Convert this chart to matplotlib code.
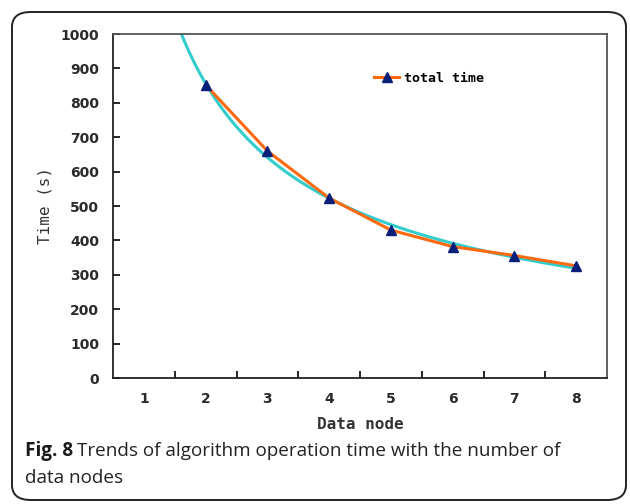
import numpy as np
import matplotlib
matplotlib.use('Agg')
import matplotlib.pyplot as plt
from matplotlib.patches import FancyBboxPatch

# data
nodes = [1, 2, 3, 4, 5, 6, 7, 8]
time_nodes = [2, 3, 4, 5, 6, 7, 8]
total_time = [852, 660, 523, 430, 382, 356, 326]
y_ticks = [0, 100, 200, 300, 400, 500, 600, 700, 800, 900, 1000]

fig = plt.figure(figsize=(6.3, 5.04), dpi=100)

# rounded frame around figure + caption
frame = FancyBboxPatch((12 / 630, 4 / 504), 614 / 630, 488 / 504,
                       boxstyle='round,pad=0,rounding_size=0.03',
                       transform=fig.transFigure, fill=False,
                       edgecolor='#222222', linewidth=1.4)
fig.patches.append(frame)

ax = fig.add_axes([113 / 630, 1 - 378 / 504, 494 / 630, 344 / 504])

# power trendline fitted to the series (Excel style)
b, log_a = np.polyfit(np.log(time_nodes), np.log(total_time), 1)
xs = np.linspace(1.3, 8, 300)
ax.plot(xs, np.exp(log_a) * xs ** b, color='#33CCCC', lw=2.2, zorder=2)

ax.plot(time_nodes, total_time, color='#FF6A10', lw=2.2, marker='^',
        markersize=6.5, markerfacecolor='#0A1F7A', markeredgecolor='#0A1F7A',
        label='total time', zorder=3)

ax.set_xlim(0.5, 8.5)
ax.set_ylim(0, 1000)
ax.set_yticks(y_ticks)
ax.set_xticks(nodes)
ax.set_xticks(np.arange(1.5, 8.5, 1), minor=True)
ax.tick_params(axis='x', which='major', length=0, pad=10)
ax.tick_params(axis='x', which='minor', direction='in', length=5, width=1.2)
ax.tick_params(axis='y', direction='in', length=5, width=1.2, pad=10)
for lab in ax.get_xticklabels() + ax.get_yticklabels():
    lab.set_fontsize(10)
    lab.set_fontweight('semibold')
    lab.set_color('#2a2a2a')

for side, sp in ax.spines.items():
    sp.set_linewidth(1.3)
    sp.set_color('#222222' if side in ('left', 'bottom') else '#555555')

ax.set_xlabel('Data node', family='DejaVu Sans Mono', fontsize=11.5,
              fontweight='bold', color='#333333', labelpad=8)
ax.set_ylabel('Time (s)', family='DejaVu Sans Mono', fontsize=11.5,
              color='#333333', labelpad=6)

ax.legend(loc='center left', bbox_to_anchor=(0.515, 0.872), frameon=False,
          handlelength=1.9, handletextpad=0.35, borderpad=0,
          prop={'family': 'DejaVu Sans Mono', 'size': 9.5, 'weight': 'bold'})

# caption: bold label followed by regular text
cap_size = 13.6
x0 = 25 / 630
bold = fig.text(x0, 1 - 456 / 504, 'Fig. 8', family='Open Sans',
                fontsize=cap_size, fontweight='bold', va='baseline',
                ha='left', color='#1a1a1a')
fig.canvas.draw()
ext = bold.get_window_extent()
fig.text(ext.x1 / 630 + 4 / 630, 1 - 456 / 504,
         'Trends of algorithm operation time with the number of',
         family='Open Sans', fontsize=cap_size, va='baseline', ha='left',
         color='#222222')
fig.text(x0, 1 - 483 / 504, 'data nodes', family='Open Sans',
         fontsize=cap_size, va='baseline', ha='left', color='#222222')

plt.savefig('out.png', dpi=100)
